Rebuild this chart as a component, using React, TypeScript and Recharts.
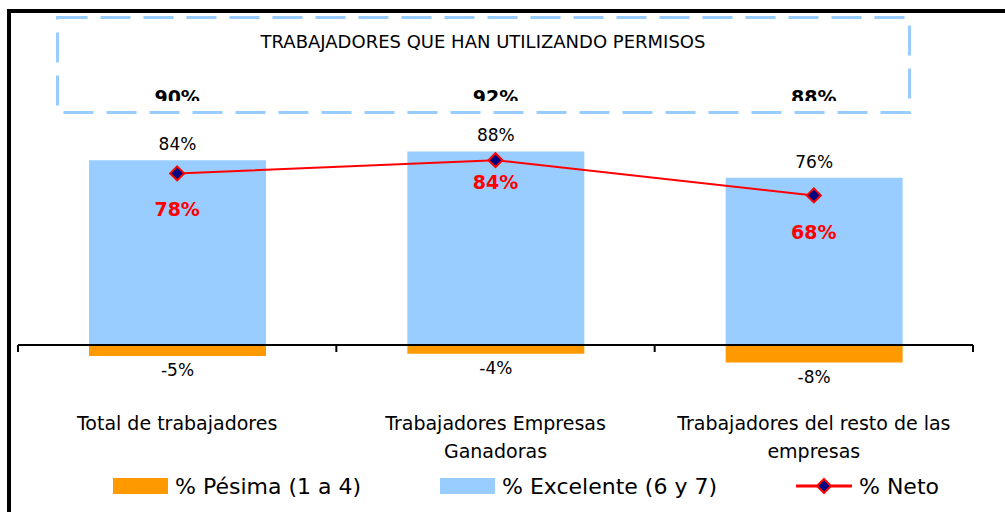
import React from 'react'
import { ComposedChart, Bar, Line, XAxis, YAxis, ReferenceLine, LabelList, Legend, Text } from 'recharts'

const categories = [
  'Total de trabajadores',
  'Trabajadores Empresas Ganadoras',
  'Trabajadores del resto de las empresas',
]
const pesima = [-5, -4, -8]
const excelente = [84, 88, 76]
const neto = [78, 84, 68]
const permisos = [90, 92, 88]

const data = categories.map((name, i) => ({
  name,
  pesima: pesima[i],
  excelente: excelente[i],
  neto: neto[i],
  permisos: permisos[i],
}))

const FONT = '"DejaVu Sans", Tahoma, sans-serif'
const ORANGE = '#FF9900'
const BLUE = '#99CCFF'
const RED = '#FF0000'
const NAVY = '#000080'

// legend keeps the series order, not alphabetical
const LEGEND_ORDER = ['pesima', 'excelente', 'neto']

// label offsets below each Neto point (the middle one sits closer in the original)
const NETO_LABEL_DY = [43, 29, 44]

const diamondPoints = (cx: number, cy: number, r: number) =>
  `${cx},${cy - r} ${cx + r},${cy} ${cx},${cy + r} ${cx - r},${cy}`

const renderDiamond = (props: any) => {
  const { cx, cy, index } = props
  if (cx == null || cy == null) return <g key={`d-${index}`} />
  return (
    <polygon key={`d-${index}`} points={diamondPoints(cx, cy, 7)} fill={NAVY} stroke={RED} strokeWidth={2} />
  )
}

// zero line with tick marks at the category boundaries
const ZeroAxis = (props: any) => {
  const { x1, y1, x2 } = props
  const n = categories.length
  const step = (x2 - x1) / n
  return (
    <g>
      <line x1={x1} y1={y1} x2={x2} y2={y1} stroke="#000" strokeWidth={2} />
      {Array.from({ length: n + 1 }, (_, i) => (
        <line key={i} x1={x1 + i * step} x2={x1 + i * step} y1={y1} y2={y1 + 7} stroke="#000" strokeWidth={2} />
      ))}
    </g>
  )
}

const renderPesimaLabel = (props: any) => {
  const { x, y, width, height, value } = props
  const bottom = Math.max(y, y + height)
  return (
    <text x={x + width / 2} y={bottom + 20} textAnchor="middle" fontFamily={FONT} fontSize={17} fill="#000">
      {value}%
    </text>
  )
}

const renderExcelenteLabel = (props: any) => {
  const { x, y, width, height, value } = props
  const top = Math.min(y, y + height)
  return (
    <text x={x + width / 2} y={top - 10} textAnchor="middle" fontFamily={FONT} fontSize={17} fill="#000">
      {value}%
    </text>
  )
}

const renderNetoLabel = (props: any) => {
  const { x, y, value, index } = props
  return (
    <text x={x} y={y + NETO_LABEL_DY[index]} textAnchor="middle" fontFamily={FONT} fontSize={19} fontWeight="bold" fill={RED}>
      {value}%
    </text>
  )
}

const PermisoTick = (props: any) => {
  const { x, y, payload } = props
  return (
    <text x={x} y={y - 21} textAnchor="middle" fontFamily={FONT} fontSize={19} fontWeight="bold" fill="#000">
      {payload.value}%
    </text>
  )
}

const CategoryTick = (props: any) => {
  const { x, y, payload } = props
  return (
    <Text
      x={x}
      y={y + 50}
      width={285}
      textAnchor="middle"
      verticalAnchor="start"
      lineHeight={28}
      fontFamily={FONT}
      fontSize={19}
      style={{ fontFamily: FONT, fontSize: '19px' }}
      fill="#000"
    >
      {payload.value}
    </Text>
  )
}

const renderLegend = (props: any) => {
  const items = [...(props.payload || [])].sort(
    (a: any, b: any) => LEGEND_ORDER.indexOf(a.dataKey) - LEGEND_ORDER.indexOf(b.dataKey)
  )
  return (
    <div style={{ display: 'flex', alignItems: 'center', height: 28, fontFamily: FONT, fontSize: 22, color: '#000' }}>
      {items.map((entry: any) => (
        <div key={entry.value} style={{ display: 'flex', alignItems: 'center', marginRight: 79 }}>
          {entry.dataKey === 'neto' ? (
            <svg width={56} height={18}>
              <line x1={0} y1={9} x2={56} y2={9} stroke={RED} strokeWidth={3} />
              <polygon points={diamondPoints(28, 9, 7)} fill={NAVY} stroke={RED} strokeWidth={2} />
            </svg>
          ) : (
            <span style={{ display: 'inline-block', width: 55, height: 16, background: entry.color }} />
          )}
          <span style={{ marginLeft: 7, whiteSpace: 'nowrap' }}>{entry.value}</span>
        </div>
      ))}
    </div>
  )
}

export default function App() {
  return (
    <div style={{ position: 'absolute', left: 0, top: 0, width: 1005, height: 512, background: '#fff', overflow: 'hidden' }}>
      <ComposedChart
        width={1005}
        height={512}
        data={data}
        margin={{ top: 0, right: 32, bottom: 0, left: 18 }}
        stackOffset="sign"
        barCategoryGap={0}
      >
        <XAxis
          xAxisId="top"
          orientation="top"
          dataKey="permisos"
          height={125}
          axisLine={false}
          tickLine={false}
          tickSize={0}
          tickMargin={0}
          interval={0}
          tick={<PermisoTick />}
        />
        <XAxis
          xAxisId="bottom"
          dataKey="name"
          height={145}
          axisLine={false}
          tickLine={false}
          tickSize={0}
          tickMargin={0}
          interval={0}
          tick={<CategoryTick />}
        />
        <YAxis hide domain={[-10, 100]} allowDataOverflow />
        <Bar xAxisId="bottom" dataKey="pesima" name="% Pésima (1 a 4)" stackId="a" fill={ORANGE} barSize={177} isAnimationActive={false}>
          <LabelList dataKey="pesima" content={renderPesimaLabel} />
        </Bar>
        <Bar xAxisId="bottom" dataKey="excelente" name="% Excelente (6 y 7)" stackId="a" fill={BLUE} barSize={177} isAnimationActive={false}>
          <LabelList dataKey="excelente" content={renderExcelenteLabel} />
        </Bar>
        <ReferenceLine xAxisId="bottom" y={0} shape={ZeroAxis} />
        <Line
          xAxisId="bottom"
          dataKey="neto"
          name="% Neto"
          stroke={RED}
          strokeWidth={2}
          dot={renderDiamond}
          activeDot={false}
          isAnimationActive={false}
        >
          <LabelList dataKey="neto" content={renderNetoLabel} />
        </Line>
        <Legend
          layout="horizontal"
          verticalAlign="middle"
          align="center"
          content={renderLegend}
          wrapperStyle={{ top: 472, left: 113, width: 880 }}
        />
      </ComposedChart>
      <svg width={1005} height={512} style={{ position: 'absolute', left: 0, top: 0, pointerEvents: 'none' }}>
        <path d="M9 512 V11 H1005" fill="none" stroke="#000" strokeWidth={4} />
        <rect x={59} y={101} width={849} height={10} fill="#fff" />
        <rect x={57.5} y={17.5} width={852} height={95} fill="none" stroke={BLUE} strokeWidth={3} strokeDasharray="30 13" />
        <text x={483} y={48} textAnchor="middle" fontFamily={FONT} fontSize={18} fill="#000">
          TRABAJADORES QUE HAN UTILIZANDO PERMISOS
        </text>
      </svg>
    </div>
  )
}
